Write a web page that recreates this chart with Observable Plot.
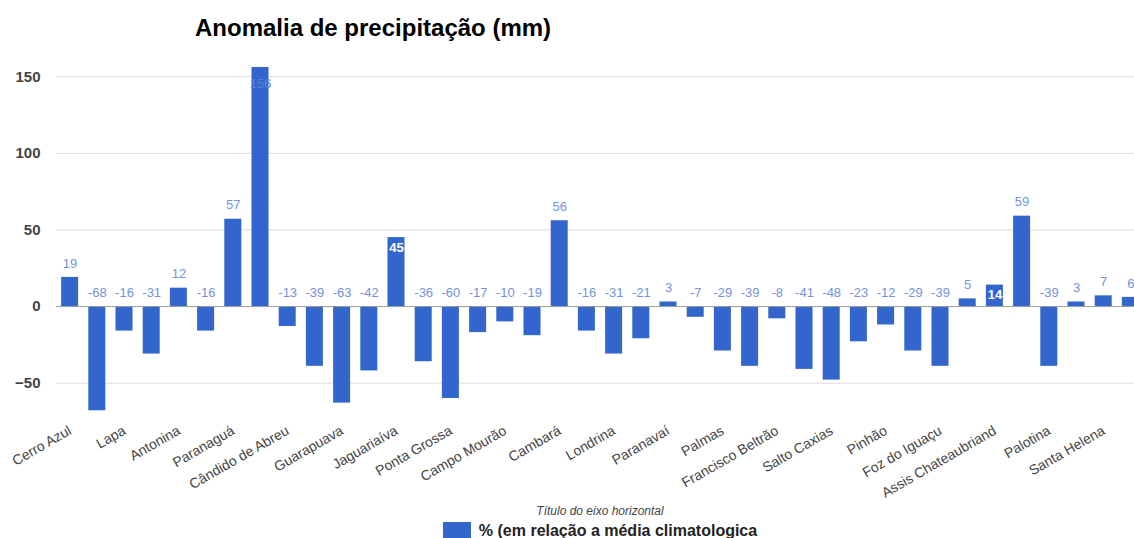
<!DOCTYPE html>
<html>
<head>
<meta charset="utf-8">
<script src="https://cdn.jsdelivr.net/npm/d3@7"></script>
<script src="https://cdn.jsdelivr.net/npm/@observablehq/plot@0.6"></script>
<style>
  body { margin: 0; background: #fff; font-family: "Liberation Sans", Arial, sans-serif; overflow: hidden; width: 1134px; height: 538px; position: relative; }
  #title { position: absolute; left: 195px; top: 14px; font-size: 24px; line-height: 28px; font-weight: bold; color: #000; white-space: nowrap; }
  #chart { position: absolute; left: 0; top: 50px; }
  #axtitle { position: absolute; top: 504px; left: 56px; width: 1088px; text-align: center; font-style: italic; font-size: 12px; line-height: 14px; color: #444; }
  #legend { position: absolute; top: 521px; left: 56px; width: 1088px; display: flex; justify-content: center; align-items: flex-start; }
  #legend .sw { width: 28px; height: 20px; background: #3366cc; margin-top: 1px; margin-right: 8px; }
  #legend .lt { font-size: 16px; font-weight: bold; color: #222; line-height: 19px; white-space: nowrap; }
</style>
</head>
<body>
<div id="title">Anomalia de precipitação (mm)</div>
<div id="chart"></div>
<div id="axtitle">Título do eixo horizontal</div>
<div id="legend"><div class="sw"></div><div class="lt">% (em relação a média climatologica</div></div>
<script>
// Station names (odd-indexed labels are hidden in the original chart)
const stations = [
  "Cerro Azul", "Curitiba", "Lapa", "Guaratuba", "Antonina", "Morretes",
  "Paranaguá", "Telêmaco Borba", "Cândido de Abreu", "General Carneiro",
  "Guarapuava", "União da Vitória", "Jaguariaíva", "Castro", "Ponta Grossa",
  "Ivaí", "Campo Mourão", "Umuarama", "Cambará", "Bandeirantes",
  "Londrina", "Apucarana", "Paranavaí", "Cianorte", "Palmas", "Clevelândia",
  "Francisco Beltrão", "Dois Vizinhos", "Salto Caxias", "Laranjeiras do Sul",
  "Pinhão", "Cascavel", "Foz do Iguaçu", "Toledo", "Assis Chateaubriand",
  "Marechal Cândido Rondon", "Palotina", "Medianeira", "Santa Helena",
  "São Miguel do Iguaçu"
];
const anomalies = [
  19, -68, -16, -31, 12, -16, 57, 156, -13, -39,
  -63, -42, 45, -36, -60, -17, -10, -19, 56, -16,
  -31, -21, 3, -7, -29, -39, -8, -41, -48, -23,
  -12, -29, -39, 5, 14, 59, -39, 3, 7, 6
];
const yTicks = [-50, 0, 50, 100, 150];
const xTickLabels = stations.filter((d, i) => i % 2 === 0);

const data = stations.map((name, i) => ({name, value: anomalies[i], i}));
const insideIdx = new Set([7, 12, 34]);
const outside = data.filter(d => !insideIdx.has(d.i));
const insideWhite = data.filter(d => d.i === 12 || d.i === 34);
const insideBlue = data.filter(d => d.i === 7);

const chart = Plot.plot({
  width: 1134,
  height: 488,
  marginLeft: 56,
  marginRight: -10,
  marginTop: 17,
  marginBottom: 117,
  style: {fontFamily: "'Liberation Sans', Arial, sans-serif", fontSize: "13px", background: "#fff", maxWidth: "none", overflow: "hidden"},
  x: {domain: stations, paddingInner: 0.375, paddingOuter: 0.1875, round: false, label: null},
  y: {domain: [-75, 156], label: null},
  marks: [
    Plot.ruleY(yTicks.filter(d => d !== 0), {stroke: "#dcdcdc", strokeWidth: 1}),
    Plot.barY(data, {x: "name", y: "value", fill: "#3366cc"}),
    Plot.ruleY([0], {stroke: "#9a9a9a", strokeWidth: 1}),
    Plot.text(outside, {x: "name", y: d => Math.max(d.value, 0), text: d => String(d.value), dy: -14, fill: "#7392e0", fontSize: 13}),
    Plot.text(insideWhite, {x: "name", y: "value", text: d => String(d.value), dy: 10, fill: "#ffffff", fontSize: 13, fontWeight: "bold"}),
    Plot.text(insideBlue, {x: "name", y: "value", text: d => String(d.value), dy: 16, fill: "#5b80dc", fontSize: 13}),
    Plot.axisY({ticks: yTicks, tickSize: 0, tickPadding: 16, fontSize: 15, fontWeight: "bold", fill: "#444", label: null}),
    Plot.axisX({ticks: xTickLabels, tickSize: 0, tickPadding: 8, tickRotate: -30, fontSize: 14, fill: "#444", label: null})
  ]
});
document.getElementById("chart").appendChild(chart);
</script>
</body>
</html>
